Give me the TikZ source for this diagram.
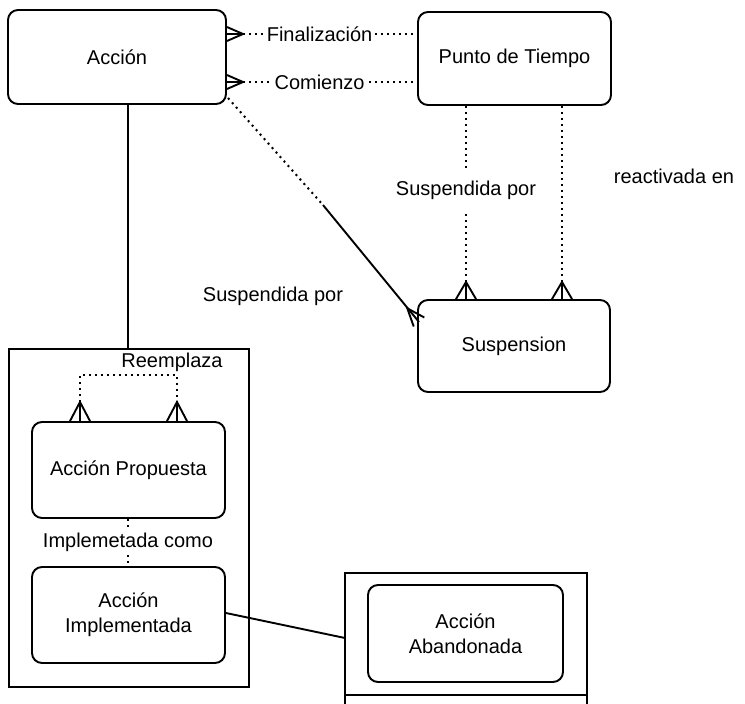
\documentclass[tikz,border=0pt]{standalone}
\usepackage{fontspec}
\setmainfont{Liberation Sans}
\usetikzlibrary{calc}
\begin{document}
\begin{tikzpicture}[x=1pt,y=-1pt,
  every node/.style={font=\fontsize{20}{24}\selectfont, inner sep=0pt},
  ent/.style={draw, line width=1.9pt, rounded corners=10pt, align=center},
  frame/.style={draw, line width=1.6pt},
  rel/.style={line width=1.9pt},
  dotrel/.style={line width=2pt, dash pattern=on 2pt off 4pt},
  lbl/.style={fill=white, inner xsep=3pt, inner ysep=2pt},
  foot/.style={line width=1.9pt}]
\useasboundingbox (0,0) rectangle (745,704);
\clip (0,0) rectangle (745,704);

% entities
\node[ent, minimum width=218pt, minimum height=94pt] (accion) at (117,57) {Acción};
\node[ent, minimum width=193pt, minimum height=93pt] (punto) at (514.5,58.5) {Punto de Tiempo};
\node[ent, minimum width=192pt, minimum height=92pt] (susp) at (514,346) {Suspension};

% subtype frame of Acción
\node[frame, minimum width=240pt, minimum height=338pt] (frameA) at (129,518) {};
\node[ent, minimum width=193pt, minimum height=96pt] (prop) at (128.5,470) {Acción Propuesta};
\node[ent, minimum width=193pt, minimum height=96pt] (impl) at (128.5,615) {Acción\\[1pt]Implementada};

% subtype frame of Acción Implementada
\draw[frame] (345,710) -- (345,573) -- (587,573) -- (587,710);
\draw[frame] (345,695) -- (587,695);
\coordinate (frameB) at (345,638);
\node[ent, minimum width=195pt, minimum height=97pt] (aban) at (465.5,633.5) {Acción\\[1pt]Abandonada};

% Finalización / Comienzo relationships
\coordinate (finTip) at (243,34);
\coordinate (comTip) at (243,82);
\draw[dotrel] (finTip) -- (finTip -| punto.west)
  node[lbl, pos=0.44] {Finalización};
\draw[dotrel] (comTip) -- (comTip -| punto.west)
  node[lbl, pos=0.44] {Comienzo};
\foreach \t/\y in {finTip/34, comTip/82}{
  \draw[foot] (accion.east |- 0,\y-7) -- (\t) -- (accion.east |- 0,\y+7);
  \draw[foot] (accion.east |- 0,\y) -- (\t);
}

% Acción suspended by Suspension
\coordinate (sA) at (228,98);
\coordinate (sMid) at (323,205);
\coordinate (sEnd) at (419,322);
\coordinate (sFoot) at (407.3,308.3);
\draw[dotrel] (sA) -- (sMid);
\draw[rel] (sMid) -- (sEnd);
\draw[foot] (413.7,326.5) -- (sFoot) -- (424.3,317.5);
\node (lblSusp1) at (273,296) {Suspendida por};

% Punto de Tiempo to Suspension
\coordinate (f1) at (466,282);
\coordinate (f2) at (562,282);
\draw[dotrel] (punto.south -| f1) -- (f1)
  node[lbl, pos=0.48, minimum height=44pt] {Suspendida por};
\draw[dotrel] (punto.south -| f2) -- (f2);
\node (lblReact) at (674,176) {reactivada en};
\foreach \f in {f1,f2}{
  \draw[foot] ($(\f |- susp.north)+(-10,0)$) -- (\f) -- ($(\f |- susp.north)+(10,0)$);
  \draw[foot] (\f |- susp.north) -- (\f);
}

% Acción to its subtype frame
\draw[rel] (accion.south -| 128,0) -- (frameA.north -| 128,0);

% Reemplaza
\coordinate (r1) at (80,402);
\coordinate (r2) at (177,402);
\draw[dotrel] (r1) -- (80,375) -- (177,375) -- (r2);
\node (lblReem) at (172,362) {Reemplaza};
\foreach \f in {r1,r2}{
  \draw[foot] ($(\f |- prop.north)+(-10,0)$) -- (\f) -- ($(\f |- prop.north)+(10,0)$);
  \draw[foot] (\f |- prop.north) -- (\f);
}

% Implementada como
\draw[dotrel] (prop.south -| 128,0) -- (impl.north -| 128,0)
  node[lbl, pos=0.5] {Implemetada como};

% Acción Implementada to its subtype frame
\draw[rel] (impl.east |- 0,613) -- (frameB);
\end{tikzpicture}
\end{document}
